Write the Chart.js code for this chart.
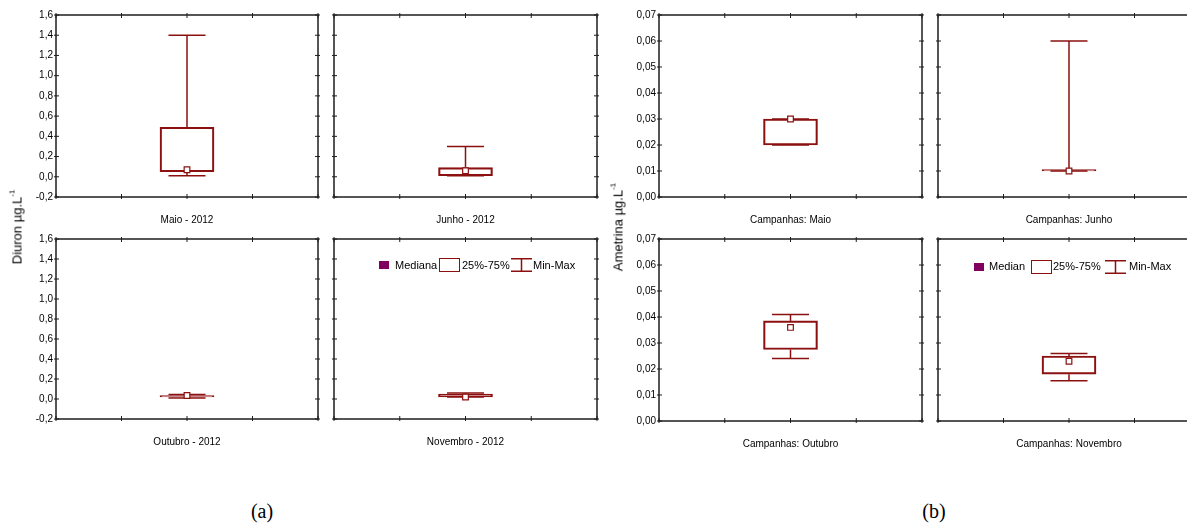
<!DOCTYPE html>
<html><head><meta charset="utf-8">
<script src="https://cdn.jsdelivr.net/npm/chart.js@4.4.1/dist/chart.umd.min.js"></script>
<style>
html,body{margin:0;padding:0;background:#fff;}
body{width:1187px;height:523px;overflow:hidden;position:relative;font-family:'Liberation Sans',Arial,sans-serif;color:#000;}
canvas{position:absolute;}
.yt{position:absolute;white-space:nowrap;font-size:13px;transform:translate(-50%,-50%) rotate(-90deg);}
.yt sup{font-size:8px;vertical-align:7px;line-height:0;}
.cap{position:absolute;font-family:'Liberation Serif','Times New Roman',serif;font-size:20px;transform:translate(-50%,-50%);white-space:nowrap;}
.lt{position:absolute;font-size:11px;line-height:13px;white-space:nowrap;}
.lsq{position:absolute;background:#800060;}
.lbx{position:absolute;box-sizing:border-box;border:1.5px solid #8c1010;}
.lwk{position:absolute;}
</style></head><body>
<div id="root"></div>
<script>
// ---------- data ----------
const diuronCategories = ['Maio - 2012', 'Junho - 2012', 'Outubro - 2012', 'Novembro - 2012'];
const diuronMin    = [0.01, 0.01, 0.01, 0.02];
const diuronQ1     = [0.05, 0.01, 0.02, 0.02];
const diuronMedian = [0.07, 0.06, 0.035, 0.02];
const diuronQ3     = [0.49, 0.09, 0.035, 0.05];
const diuronMax    = [1.40, 0.30, 0.045, 0.06];
const diuronTickValues = [-0.2, 0, 0.2, 0.4, 0.6, 0.8, 1.0, 1.2, 1.4, 1.6];
const diuronTickLabels = ['-0,2', '0,0', '0,2', '0,4', '0,6', '0,8', '1,0', '1,2', '1,4', '1,6'];

const ametrinaCategories = ['Campanhas: Maio', 'Campanhas: Junho', 'Campanhas: Outubro', 'Campanhas: Novembro'];
const ametrinaMin    = [0.02, 0.01, 0.024, 0.0155];
const ametrinaQ1     = [0.02, 0.01, 0.0275, 0.018];
const ametrinaMedian = [0.03, 0.01, 0.036, 0.023];
const ametrinaQ3     = [0.03, 0.01, 0.0385, 0.025];
const ametrinaMax    = [0.03, 0.06, 0.041, 0.026];
const ametrinaTickValues = [0, 0.01, 0.02, 0.03, 0.04, 0.05, 0.06, 0.07];
const ametrinaTickLabels = ['0,00', '0,01', '0,02', '0,03', '0,04', '0,05', '0,06', '0,07'];

const xTickValues = [0, 1, 2, 3, 4];
const boxPosition = 2;
const legendLabelsA = ['Mediana', '25%-75%', 'Min-Max'];
const legendLabelsB = ['Median', '25%-75%', 'Min-Max'];

const groups = {
  d: {cat: diuronCategories, min: diuronMin, q1: diuronQ1, med: diuronMedian, q3: diuronQ3, max: diuronMax, tv: diuronTickValues, tl: diuronTickLabels},
  a: {cat: ametrinaCategories, min: ametrinaMin, q1: ametrinaQ1, med: ametrinaMedian, q3: ametrinaQ3, max: ametrinaMax, tv: ametrinaTickValues, tl: ametrinaTickLabels}
};

// ---------- layout ----------
const RED = '#8c1010';
const FRAME = '#1e1e1e';
const panels = [
  {g: 'd', i: 0, left: 56,  top: 15,  w: 262, h: 182, yl: true},
  {g: 'd', i: 1, left: 334, top: 15,  w: 263, h: 182, yl: false},
  {g: 'd', i: 2, left: 56,  top: 239, w: 262, h: 180, yl: true},
  {g: 'd', i: 3, left: 334, top: 239, w: 263, h: 180, yl: false},
  {g: 'a', i: 0, left: 659, top: 15,  w: 263, h: 182, yl: true},
  {g: 'a', i: 1, left: 938, top: 15,  w: 262, h: 182, yl: false},
  {g: 'a', i: 2, left: 659, top: 239, w: 263, h: 182, yl: true},
  {g: 'a', i: 3, left: 938, top: 239, w: 262, h: 182, yl: false}
];

Chart.defaults.font.family = "'Liberation Sans', Arial, sans-serif";
Chart.defaults.font.size = 10;
Chart.defaults.color = '#000';

const whiskerPlugin = {
  id: 'whiskers',
  beforeDatasetsDraw(chart, args, o) {
    const {ctx} = chart, xs = chart.scales.x, ys = chart.scales.y;
    const px = xs.getPixelForValue(o.x);
    const half = 18.5;
    ctx.save();
    ctx.strokeStyle = RED;
    ctx.lineWidth = 1.5;
    ctx.beginPath();
    const yMax = ys.getPixelForValue(o.max), yQ3 = ys.getPixelForValue(o.q3);
    const yMin = ys.getPixelForValue(o.min), yQ1 = ys.getPixelForValue(o.q1);
    ctx.moveTo(px, yQ3); ctx.lineTo(px, yMax);
    ctx.moveTo(px - half, yMax); ctx.lineTo(px + half, yMax);
    ctx.moveTo(px, yQ1); ctx.lineTo(px, yMin);
    ctx.moveTo(px - half, yMin); ctx.lineTo(px + half, yMin);
    ctx.stroke();
    ctx.restore();
  }
};

const framePlugin = {
  id: 'frameTicks',
  afterDraw(chart) {
    const {ctx, chartArea: a} = chart, xs = chart.scales.x, ys = chart.scales.y;
    ctx.save();
    ctx.strokeStyle = FRAME;
    ctx.lineWidth = 1;
    ctx.beginPath();
    ys.ticks.forEach(t => {
      const y = ys.getPixelForValue(t.value);
      ctx.moveTo(a.left - 2, y); ctx.lineTo(a.left + 3, y);
      ctx.moveTo(a.right - 3, y); ctx.lineTo(a.right + 2, y);
    });
    xs.ticks.forEach(t => {
      const x = xs.getPixelForValue(t.value);
      ctx.moveTo(x, a.bottom - 3); ctx.lineTo(x, a.bottom + 2);
      ctx.moveTo(x, a.top - 2); ctx.lineTo(x, a.top + 3);
    });
    ctx.stroke();
    ctx.lineWidth = 1.5;
    ctx.strokeRect(a.left, a.top, a.right - a.left, a.bottom - a.top);
    ctx.restore();
  }
};

const root = document.getElementById('root');
panels.forEach(p => {
  const G = groups[p.g];
  const yW = p.yl ? 40 : 0, padL = p.yl ? 0 : 6, padT = 10, padR = 6, xH = 29;
  const cv = document.createElement('canvas');
  const W = padL + yW + p.w + padR, H = padT + p.h + xH;
  cv.width = W; cv.height = H;
  cv.style.left = (p.left - yW - padL) + 'px';
  cv.style.top = (p.top - padT) + 'px';
  cv.style.width = W + 'px'; cv.style.height = H + 'px';
  root.appendChild(cv);
  const i = p.i;
  new Chart(cv, {
    type: 'bar',
    data: {datasets: [
      {type: 'bar', data: [{x: boxPosition, y: [G.q1[i], G.q3[i]]}], backgroundColor: 'rgba(255,255,255,0)',
       borderColor: RED, borderWidth: 1.5, borderSkipped: false, barThickness: 54, minBarLength: 1.5, order: 2},
      {type: 'scatter', data: [{x: boxPosition, y: G.med[i]}], pointStyle: 'rect', pointRadius: 4,
       pointBackgroundColor: '#fff', pointBorderColor: RED, pointBorderWidth: 1.2, order: 1}
    ]},
    options: {
      responsive: false, animation: false, events: [],
      devicePixelRatio: 1,
      layout: {padding: {left: padL, right: padR, top: padT, bottom: 0}},
      plugins: {legend: {display: false}, tooltip: {enabled: false},
        whiskers: {min: G.min[i], max: G.max[i], q1: G.q1[i], q3: G.q3[i], x: boxPosition}},
      scales: {
        x: {type: 'linear', min: xTickValues[0], max: xTickValues[xTickValues.length - 1], offset: false,
            afterBuildTicks: s => { s.ticks = xTickValues.map(v => ({value: v})); },
            ticks: {display: false}, grid: {display: false, drawTicks: false}, border: {display: false},
            title: {display: true, text: G.cat[i], padding: 0, font: {size: 10}, color: '#000'},
            afterFit: s => { s.height = xH; }},
        y: {type: 'linear', min: G.tv[0], max: G.tv[G.tv.length - 1],
            afterBuildTicks: s => { s.ticks = G.tv.map(v => ({value: v})); },
            ticks: {display: p.yl, padding: 3, autoSkip: false, callback: (v, k) => G.tl[k], font: {size: 10}, color: '#000'},
            grid: {display: false, drawTicks: false}, border: {display: false},
            afterFit: s => { s.width = yW; }}
      }
    },
    plugins: [whiskerPlugin, framePlugin]
  });
});

// ---------- html text ----------
function add(cls, html, css) {
  const d = document.createElement('div');
  d.className = cls; d.innerHTML = html;
  Object.assign(d.style, css);
  document.body.appendChild(d);
  return d;
}
add('yt', 'Diuron µg.L<sup>-1</sup>', {left: '17px', top: '227px'});
add('yt', 'Ametrina µg.L<sup>-1</sup>', {left: '618px', top: '227px'});
add('cap', '(a)', {left: '262px', top: '511px'});
add('cap', '(b)', {left: '934px', top: '511px'});

const whiskerIcon = (w, h) => `<svg width="${w}" height="${h}" viewBox="0 0 ${w} ${h}"><path d="M0 0.75H${w}M0 ${h - 0.75}H${w}M${w / 2} 0V${h}" stroke="${RED}" stroke-width="1.5" fill="none"/></svg>`;
function legend(labels, o) {
  add('lsq', '', {left: o.sq + 'px', top: (o.cy - 4) + 'px', width: '10px', height: '8px'});
  add('lt', labels[0], {left: o.t1 + 'px', top: (o.cy - 6.5) + 'px'});
  add('lbx', '', {left: o.bx + 'px', top: (o.cy - 7) + 'px', width: '21px', height: '14px'});
  add('lt', labels[1], {left: o.t2 + 'px', top: (o.cy - 6.5) + 'px'});
  add('lwk', whiskerIcon(21, 14), {left: o.wk + 'px', top: (o.cy - 7) + 'px', width: '21px', height: '14px'});
  add('lt', labels[2], {left: o.t3 + 'px', top: (o.cy - 6.5) + 'px'});
}
legend(legendLabelsA, {cy: 265, sq: 379, t1: 395, bx: 439, t2: 462, wk: 511, t3: 533});
legend(legendLabelsB, {cy: 266.5, sq: 974, t1: 989, bx: 1031, t2: 1053, wk: 1105, t3: 1129});
</script>
</body></html>
